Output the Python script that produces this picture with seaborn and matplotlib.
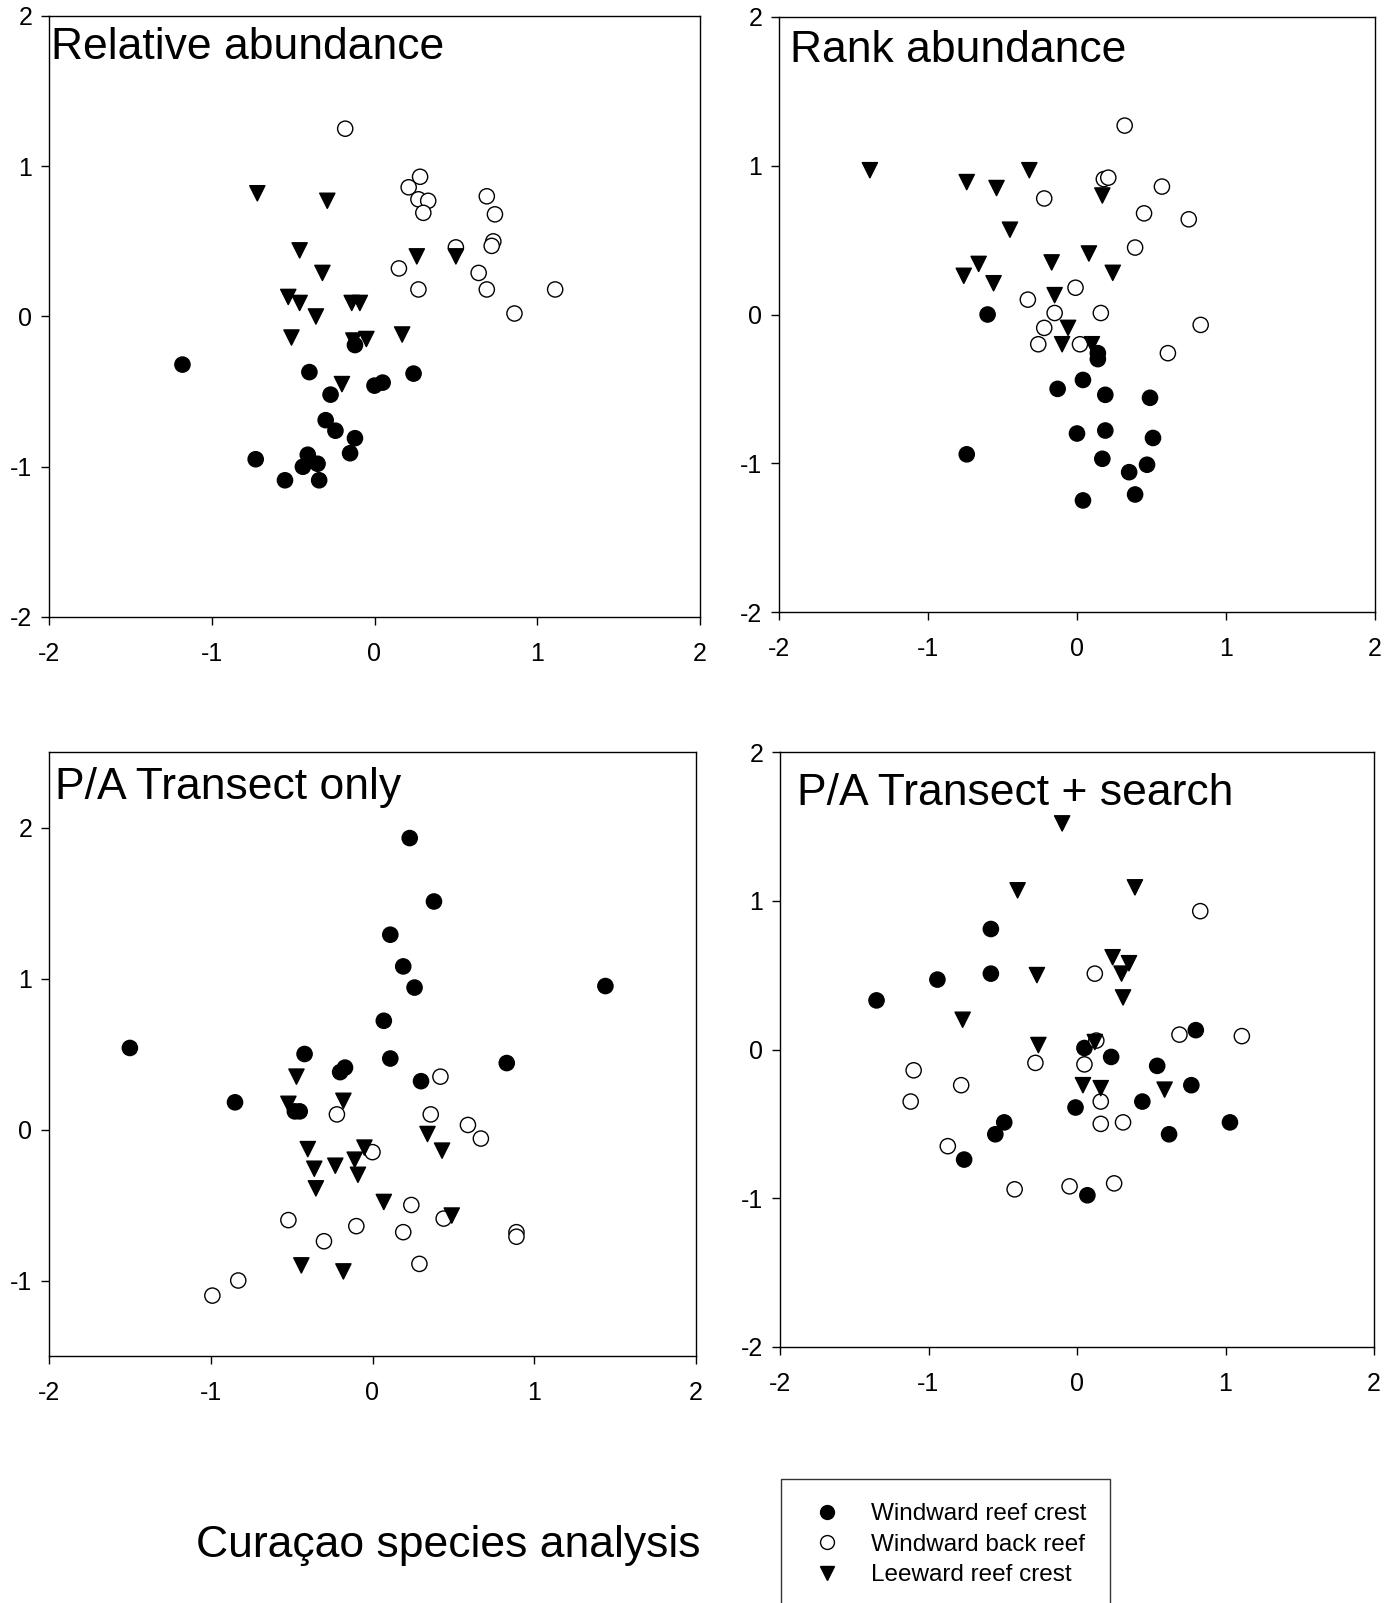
import matplotlib
matplotlib.use("Agg")
import matplotlib.pyplot as plt
from matplotlib.lines import Line2D
import seaborn as sns
import pandas as pd

# site groups
sites = ["Windward reef crest", "Windward back reef", "Leeward reef crest"]

# Relative abundance
rel_wrc_x = [-1.18, -0.40, -0.12, 0.24, 0.00, 0.05, -0.27, -0.30, -0.24, -0.12, -0.15, -0.73, -0.41, -0.44, -0.35, -0.55, -0.34]
rel_wrc_y = [-0.32, -0.37, -0.19, -0.38, -0.46, -0.44, -0.52, -0.69, -0.76, -0.81, -0.91, -0.95, -0.92, -1.00, -0.98, -1.09, -1.09]
rel_wbr_x = [-0.18, 0.28, 0.21, 0.27, 0.33, 0.30, 0.69, 0.74, 0.73, 0.72, 0.50, 0.15, 0.64, 0.27, 0.69, 1.11, 0.86]
rel_wbr_y = [1.25, 0.93, 0.86, 0.78, 0.77, 0.69, 0.80, 0.68, 0.50, 0.47, 0.46, 0.32, 0.29, 0.18, 0.18, 0.18, 0.02]
rel_lrc_x = [-0.72, -0.29, -0.46, -0.32, 0.26, 0.50, -0.53, -0.46, -0.36, -0.14, -0.09, -0.51, -0.13, -0.05, 0.17, -0.20]
rel_lrc_y = [0.82, 0.77, 0.44, 0.29, 0.40, 0.40, 0.13, 0.09, 0.00, 0.09, 0.09, -0.14, -0.16, -0.15, -0.12, -0.45]

# Rank abundance
rank_wrc_x = [-0.60, 0.14, 0.14, 0.04, -0.13, 0.19, 0.49, 0.00, 0.19, 0.51, -0.74, 0.17, 0.47, 0.35, 0.39, 0.04]
rank_wrc_y = [0.00, -0.26, -0.30, -0.44, -0.50, -0.54, -0.56, -0.80, -0.78, -0.83, -0.94, -0.97, -1.01, -1.06, -1.21, -1.25]
rank_wbr_x = [0.32, 0.18, 0.21, -0.22, 0.57, 0.45, 0.75, 0.39, -0.01, -0.33, -0.15, 0.16, 0.83, -0.22, -0.26, 0.02, 0.61]
rank_wbr_y = [1.27, 0.91, 0.92, 0.78, 0.86, 0.68, 0.64, 0.45, 0.18, 0.10, 0.01, 0.01, -0.07, -0.09, -0.20, -0.20, -0.26]
rank_lrc_x = [-1.39, -0.74, -0.32, -0.54, 0.17, -0.45, 0.08, -0.66, -0.76, -0.56, -0.17, 0.24, -0.15, -0.06, -0.10, 0.10]
rank_lrc_y = [0.97, 0.89, 0.97, 0.85, 0.80, 0.57, 0.41, 0.34, 0.26, 0.21, 0.35, 0.28, 0.13, -0.09, -0.20, -0.20]

# P/A Transect only
pat_wrc_x = [0.23, 0.38, 0.11, 0.19, 0.26, 1.44, 0.07, -1.50, -0.42, 0.11, -0.20, -0.17, 0.83, 0.30, -0.85, -0.48, -0.45]
pat_wrc_y = [1.93, 1.51, 1.29, 1.08, 0.94, 0.95, 0.72, 0.54, 0.50, 0.47, 0.38, 0.41, 0.44, 0.32, 0.18, 0.12, 0.12]
pat_wbr_x = [0.42, -0.22, 0.36, 0.59, 0.67, 0.00, 0.24, 0.44, -0.52, -0.10, 0.19, -0.30, 0.89, 0.89, 0.29, -0.83, -0.99]
pat_wbr_y = [0.35, 0.10, 0.10, 0.03, -0.06, -0.15, -0.50, -0.59, -0.60, -0.64, -0.68, -0.74, -0.68, -0.71, -0.89, -1.00, -1.10]
pat_lrc_x = [-0.47, -0.52, -0.18, 0.34, 0.43, -0.40, -0.36, -0.23, -0.11, -0.05, -0.09, -0.35, 0.07, 0.49, -0.44, -0.18]
pat_lrc_y = [0.35, 0.17, 0.19, -0.03, -0.14, -0.13, -0.26, -0.24, -0.20, -0.12, -0.30, -0.39, -0.48, -0.57, -0.90, -0.94]

# P/A Transect + search
pas_wrc_x = [-0.58, -0.58, -0.94, -1.35, 0.80, 0.05, 0.23, 0.54, 0.77, 0.44, -0.01, 1.03, -0.49, -0.55, 0.62, -0.76, 0.07]
pas_wrc_y = [0.81, 0.51, 0.47, 0.33, 0.13, 0.01, -0.05, -0.11, -0.24, -0.35, -0.39, -0.49, -0.49, -0.57, -0.57, -0.74, -0.98]
pas_wbr_x = [0.83, 0.12, 0.69, 1.11, 0.13, -0.28, 0.05, -1.10, -0.78, -1.12, 0.16, 0.16, 0.31, -0.87, -0.42, -0.05, 0.25]
pas_wbr_y = [0.93, 0.51, 0.10, 0.09, 0.06, -0.09, -0.10, -0.14, -0.24, -0.35, -0.35, -0.50, -0.49, -0.65, -0.94, -0.92, -0.90]
pas_lrc_x = [-0.10, -0.40, 0.39, 0.24, 0.35, 0.30, -0.27, 0.31, -0.77, -0.26, 0.12, 0.04, 0.16, 0.59]
pas_lrc_y = [1.52, 1.07, 1.09, 0.62, 0.58, 0.51, 0.50, 0.35, 0.20, 0.03, 0.05, -0.24, -0.26, -0.27]

titles = ["Relative abundance", "Rank abundance", "P/A Transect only", "P/A Transect + search"]
fig_title = "Curaçao species analysis"


def make_df(wrc_x, wrc_y, wbr_x, wbr_y, lrc_x, lrc_y):
    parts = []
    for name, xs, ys in zip(sites, [wrc_x, wbr_x, lrc_x], [wrc_y, wbr_y, lrc_y]):
        parts.append(pd.DataFrame({"x": xs, "y": ys, "site": name}))
    return pd.concat(parts, ignore_index=True)


panels = [
    make_df(rel_wrc_x, rel_wrc_y, rel_wbr_x, rel_wbr_y, rel_lrc_x, rel_lrc_y),
    make_df(rank_wrc_x, rank_wrc_y, rank_wbr_x, rank_wbr_y, rank_lrc_x, rank_lrc_y),
    make_df(pat_wrc_x, pat_wrc_y, pat_wbr_x, pat_wbr_y, pat_lrc_x, pat_lrc_y),
    make_df(pas_wrc_x, pas_wrc_y, pas_wbr_x, pas_wbr_y, pas_lrc_x, pas_lrc_y),
]

sns.set_style("ticks")
plt.rcParams["font.family"] = ["Liberation Sans", "DejaVu Sans"]
plt.rcParams["axes.unicode_minus"] = False
for key in ["text.color", "axes.labelcolor", "xtick.color", "ytick.color"]:
    plt.rcParams[key] = "black"

palette = {sites[0]: "black", sites[1]: "white", sites[2]: "black"}
markers = {sites[0]: "o", sites[1]: "o", sites[2]: "v"}

W, H = 1396, 1603
fig = plt.figure(figsize=(W / 100, H / 100), dpi=100)

# axes boxes in pixels: left, top, right, bottom
boxes = [(49, 16, 700, 617), (779, 17, 1375, 612), (49, 752, 696, 1356), (780, 752, 1374, 1347)]
ylims = [(-2, 2), (-2, 2), (-1.5, 2.5), (-2, 2)]
title_pos = [(0.003, 0.948), (0.019, 0.943), (0.0095, 0.942), (0.028, 0.931)]

for df, box, ylim, title, tp in zip(panels, boxes, ylims, titles, title_pos):
    l, t, r, b = box
    ax = fig.add_axes([l / W, 1 - b / H, (r - l) / W, (b - t) / H])
    sns.scatterplot(data=df, x="x", y="y", hue="site", style="site",
                    palette=palette, markers=markers, edgecolor="black",
                    linewidth=1.0, s=120, legend=False, ax=ax)
    ax.set_xlim(-2, 2)
    ax.set_ylim(*ylim)
    ax.set_xticks([-2, -1, 0, 1, 2])
    ax.set_yticks([-2, -1, 0, 1, 2] if ylim[0] == -2 else [-1, 0, 1, 2])
    ax.set(xlabel="", ylabel="")
    ax.tick_params(direction="out", length=6, width=1, labelsize=18, colors="black")
    ax.tick_params(axis="x", pad=12)
    ax.tick_params(axis="y", pad=6)
    for sp in ax.spines.values():
        sp.set_color("black")
        sp.set_linewidth(1)
    ax.text(tp[0], tp[1], title, transform=ax.transAxes, ha="left", va="center", fontsize=32)

fig.text(448 / W, 1 - 1545 / H, fig_title, ha="center", va="center", fontsize=32)

handles = [
    Line2D([], [], ls="none", marker="o", markersize=10, mfc="black", mec="black"),
    Line2D([], [], ls="none", marker="o", markersize=10, mfc="white", mec="black"),
    Line2D([], [], ls="none", marker="v", markersize=10, mfc="black", mec="black"),
]
leg = fig.legend(handles, sites, loc="upper left", bbox_to_anchor=(781 / W, 1 - 1479 / H),
                 borderaxespad=0, fontsize=17.5, frameon=True, fancybox=False, edgecolor="black",
                 borderpad=1.0, labelspacing=0.35, handletextpad=0.89, handlelength=1.8)
leg.get_frame().set_linewidth(1)

fig.savefig("out.png", dpi=100)
